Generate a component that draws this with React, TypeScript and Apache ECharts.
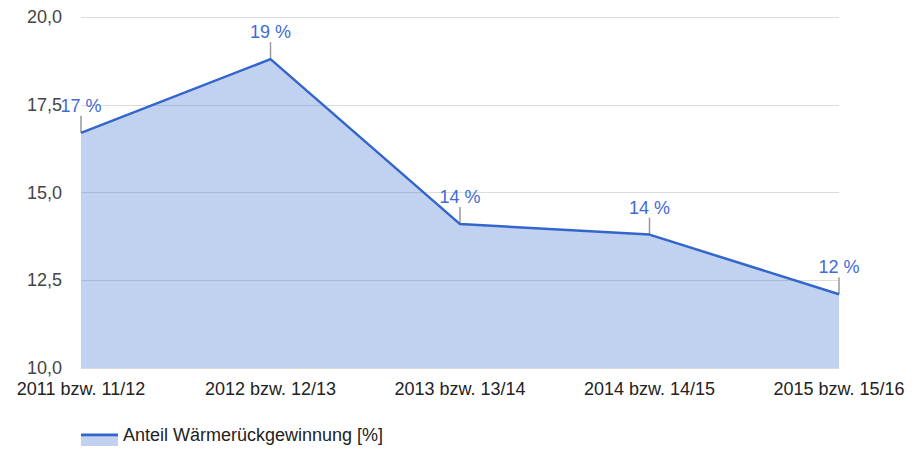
import React, { useEffect, useRef } from "react";
import * as echarts from "echarts";

const categories = [
  "2011 bzw. 11/12",
  "2012 bzw. 12/13",
  "2013 bzw. 13/14",
  "2014 bzw. 14/15",
  "2015 bzw. 15/16",
];
const values = [16.7, 18.8, 14.1, 13.8, 12.1];
const annotations = ["17 %", "19 %", "14 %", "14 %", "12 %"];
const seriesName = "Anteil Wärmerückgewinnung [%]";

const FONT = 'Arial, "Liberation Sans", sans-serif';
const BLUE = "#3366cc";

export default function App() {
  const ref = useRef<HTMLDivElement>(null);
  useEffect(() => {
    if (!ref.current) return;
    const chart = echarts.init(ref.current, undefined, { renderer: "svg" });
    chart.setOption({
      animation: false,
      grid: { left: 81, right: 76, top: 17, bottom: 81 },
      xAxis: {
        type: "category",
        data: categories,
        boundaryGap: false,
        axisLine: { show: false },
        axisTick: { show: false },
        axisLabel: { color: "#222", fontSize: 18, fontFamily: FONT, margin: 12, interval: 0 },
      },
      yAxis: {
        type: "value",
        min: 10,
        max: 20,
        interval: 2.5,
        axisLine: { show: false },
        axisTick: { show: false },
        axisLabel: {
          color: "#444",
          fontSize: 18,
          fontFamily: FONT,
          margin: 19,
          formatter: (v: number) => v.toFixed(1).replace(".", ","),
        },
        splitLine: { lineStyle: { color: "#dcdcdc", width: 1 } },
      },
      legend: {
        left: 81,
        top: 424,
        padding: 0,
        itemWidth: 37,
        itemHeight: 3,
        icon: "rect",
        textStyle: { color: "#222", fontSize: 18, fontFamily: FONT, lineHeight: 22 },
        data: [{ name: seriesName, itemStyle: { color: BLUE } }],
      },
      graphic: [
        {
          type: "rect",
          left: 81,
          top: 437,
          shape: { width: 37, height: 9 },
          style: { fill: "#c2d1f0" },
        },
      ],
      series: [
        {
          name: seriesName,
          type: "line",
          data: values,
          showSymbol: false,
          symbol: "none",
          lineStyle: { color: BLUE, width: 2.5 },
          itemStyle: { color: BLUE },
          areaStyle: { color: BLUE, opacity: 0.3 },
        },
        {
          name: "annotations",
          type: "custom",
          clip: false,
          silent: true,
          data: values.map((v, i) => [i, v]),
          renderItem: (params: any, api: any) => {
            const p = api.coord([api.value(0), api.value(1)]);
            const idx = params.dataIndex;
            return {
              type: "group",
              children: [
                {
                  type: "line",
                  shape: { x1: p[0], y1: p[1], x2: p[0], y2: p[1] - 17 },
                  style: { stroke: "#999", lineWidth: 1.5 },
                },
                {
                  type: "text",
                  x: p[0],
                  y: p[1] - 18,
                  style: {
                    text: annotations[idx],
                    fill: "#3f6bd6",
                    font: `18px ${FONT}`,
                    align: "center",
                    verticalAlign: "bottom",
                  },
                },
              ],
            };
          },
        },
      ],
    });
    return () => chart.dispose();
  }, []);
  return <div ref={ref} style={{ width: 915, height: 449, position: "absolute", left: 0, top: 0 }} />;
}
